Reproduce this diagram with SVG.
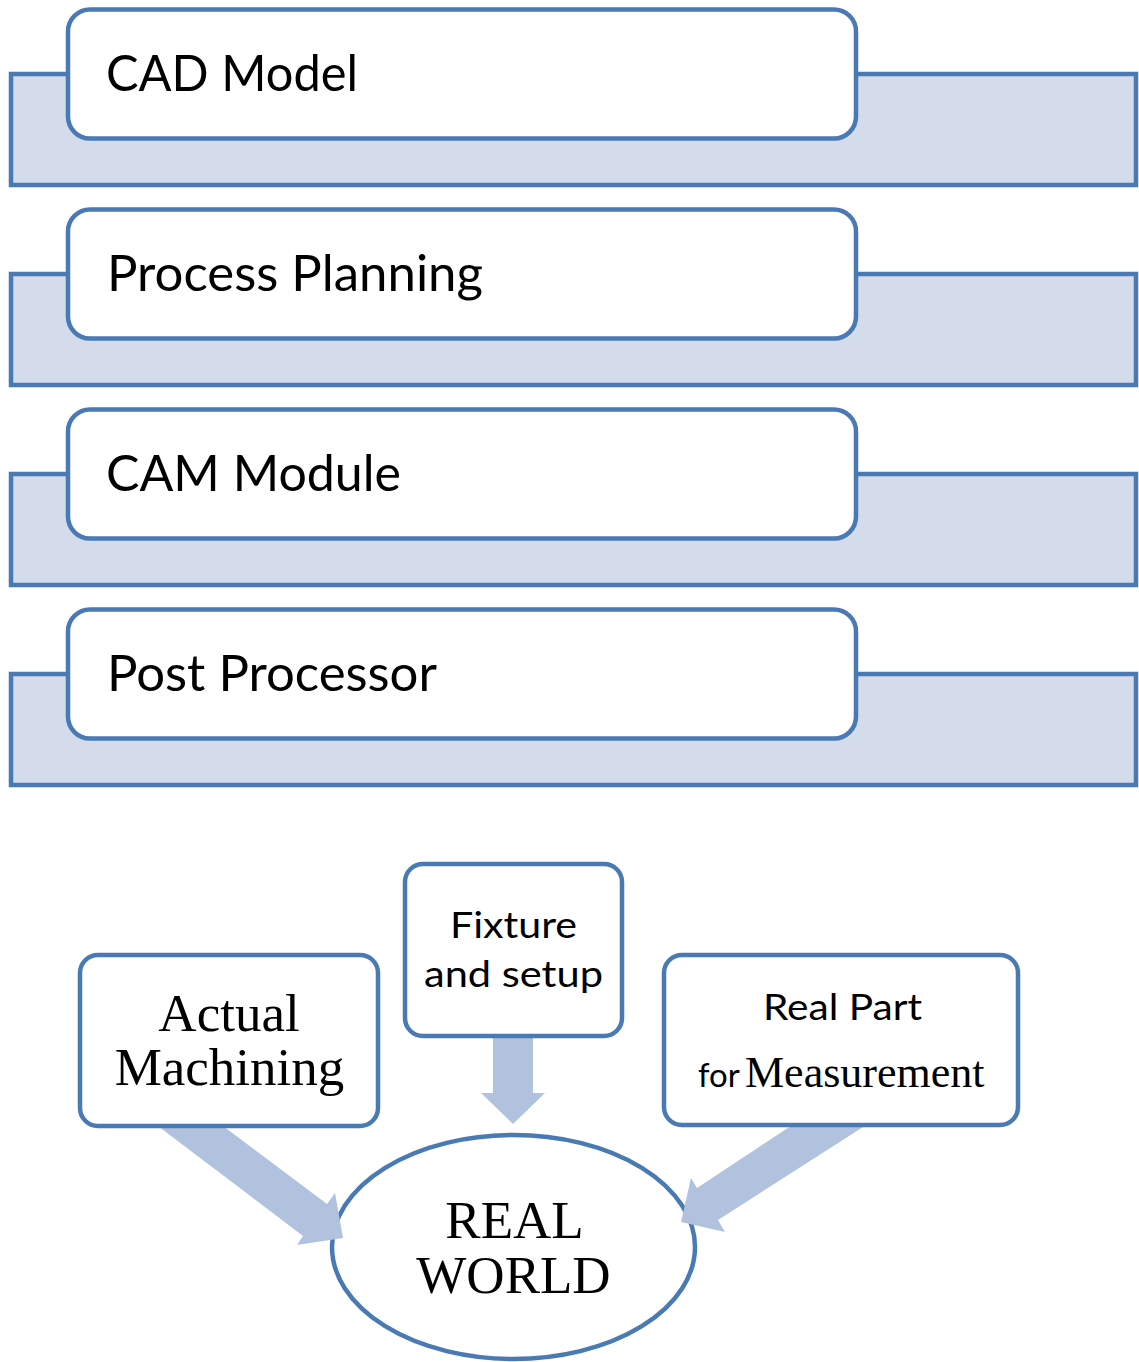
<svg xmlns="http://www.w3.org/2000/svg" width="1139" height="1362" viewBox="0 0 1139 1362">
  <style>
    .bar { fill: #D4DBEB; stroke: #4A7AB4; stroke-width: 4.5; }
    .box { fill: #FFFFFF; stroke: #4A7AB4; stroke-width: 4.5; }
    .arrow { fill: #B1C2DE; stroke: none; }
    .sans { font-family: Lato, "Open Sans", "Liberation Sans", sans-serif; fill: #000; }
    .serif { font-family: "Liberation Serif", "Times New Roman", serif; fill: #000; }
    .big { font-size: 51px; }
    .mid { font-size: 37px; }
  </style>

  <g id="row-cad">
    <rect class="bar" x="11" y="74" width="1125" height="111"/>
    <rect class="box" x="68" y="9.5" width="788" height="129" rx="22" ry="22"/>
    <text class="sans big" x="106" y="91" textLength="252" lengthAdjust="spacingAndGlyphs">CAD Model</text>
  </g>
  <g id="row-process">
    <rect class="bar" x="11" y="274" width="1125" height="111"/>
    <rect class="box" x="68" y="209.5" width="788" height="129" rx="22" ry="22"/>
    <text class="sans big" x="107" y="291" textLength="376" lengthAdjust="spacingAndGlyphs">Process Planning</text>
  </g>
  <g id="row-cam">
    <rect class="bar" x="11" y="474" width="1125" height="111"/>
    <rect class="box" x="68" y="409.5" width="788" height="129" rx="22" ry="22"/>
    <text class="sans big" x="106" y="491" textLength="295" lengthAdjust="spacingAndGlyphs">CAM Module</text>
  </g>
  <g id="row-post">
    <rect class="bar" x="11" y="674" width="1125" height="111"/>
    <rect class="box" x="68" y="609.5" width="788" height="129" rx="22" ry="22"/>
    <text class="sans big" x="107" y="691" textLength="330" lengthAdjust="spacingAndGlyphs">Post Processor</text>
  </g>

  <g id="real-world">
    <ellipse class="box" cx="513.5" cy="1247" rx="181.5" ry="112"/>
    <text class="serif" font-size="53" text-anchor="middle" x="514.5" y="1238">REAL</text>
    <text class="serif" font-size="53" text-anchor="middle" x="513.5" y="1293">WORLD</text>
  </g>

  <g id="connectors">
    <polygon class="arrow" points="150,1120 215,1120 327,1204 335,1193 343,1238 297,1245 303,1236"/>
    <polygon class="arrow" points="493,1030 533,1030 533,1093 545,1093 513,1124 481,1093 493,1093"/>
    <polygon class="arrow" points="800,1120 874,1120 718,1220 725,1232 681,1222 691,1178 697,1188"/>
  </g>

  <g id="actual-machining">
    <rect class="box" x="80" y="955" width="298" height="171" rx="18" ry="18"/>
    <text class="serif" font-size="53" text-anchor="middle" x="229" y="1031">Actual</text>
    <text class="serif" font-size="53" text-anchor="middle" x="229.5" y="1085">Machining</text>
  </g>
  <g id="fixture-setup">
    <rect class="box" x="405" y="864" width="217" height="172" rx="18" ry="18"/>
    <text class="sans mid" x="450" y="938" textLength="127" lengthAdjust="spacingAndGlyphs">Fixture</text>
    <text class="sans mid" x="424" y="987" textLength="179" lengthAdjust="spacingAndGlyphs">and setup</text>
  </g>
  <g id="real-part">
    <rect class="box" x="664" y="955" width="354" height="170" rx="18" ry="18"/>
    <text class="sans mid" x="763" y="1020" textLength="159" lengthAdjust="spacingAndGlyphs">Real Part</text>
    <text x="698" y="1087"><tspan class="sans" font-size="33">for</tspan><tspan class="serif" font-size="44" x="745">Measurement</tspan></text>
  </g>
</svg>
